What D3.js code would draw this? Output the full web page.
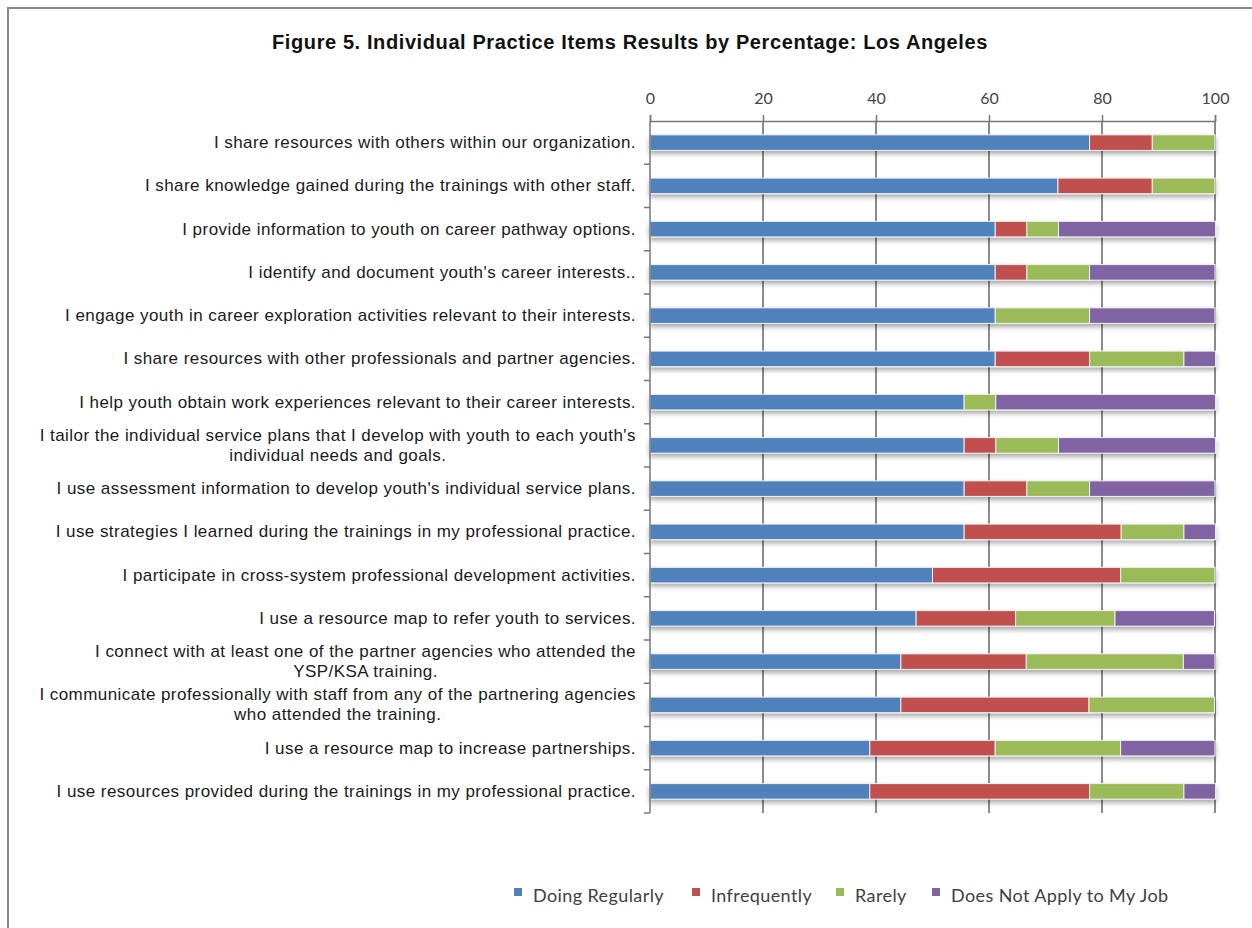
<!DOCTYPE html>
<html>
<head>
<meta charset="utf-8">
<script src="https://cdn.jsdelivr.net/npm/d3@7"></script>
<style>
  body { margin: 0; background: #fff; }
  svg { display: block; }
</style>
</head>
<body>
<script>
// items, top to bottom (multi-line labels split with |)
const items = [
  "I share resources with others within our organization.",
  "I share knowledge gained during the trainings with other staff.",
  "I provide information to youth on career pathway options.",
  "I identify and document youth's career interests..",
  "I engage youth in career exploration activities relevant to their interests.",
  "I share resources with other professionals and partner agencies.",
  "I help youth obtain work experiences relevant to their career interests.",
  "I tailor the individual service plans that I develop with youth to each youth's|individual needs and goals.",
  "I use assessment information to develop youth's individual service plans.",
  "I use strategies I learned during the trainings in my professional practice.",
  "I participate in cross-system professional development activities.",
  "I use a resource map to refer youth to services.",
  "I connect with at least one of the partner agencies who attended the|YSP/KSA training.",
  "I communicate professionally with staff from any of the partnering agencies|who attended the training.",
  "I use a resource map to increase partnerships.",
  "I use resources provided during the trainings in my professional practice."
];

const doingRegularly = [77.8, 72.2, 61.1, 61.1, 61.1, 61.1, 55.6, 55.6, 55.6, 55.6, 50.0, 47.1, 44.4, 44.4, 38.9, 38.9];
const infrequently   = [11.1, 16.7, 5.6, 5.6, 0, 16.7, 0, 5.6, 11.1, 27.8, 33.3, 17.6, 22.2, 33.3, 22.2, 38.9];
const rarely         = [11.1, 11.1, 5.6, 11.1, 16.7, 16.7, 5.6, 11.1, 11.1, 11.1, 16.7, 17.6, 27.8, 22.2, 22.2, 16.7];
const doesNotApply   = [0, 0, 27.8, 22.2, 22.2, 5.6, 38.9, 27.8, 22.2, 5.6, 0, 17.6, 5.6, 0, 16.7, 5.6];

const seriesNames = ["Doing Regularly", "Infrequently", "Rarely", "Does Not Apply to My Job"];
const seriesColors = ["#4F81BD", "#C0504D", "#9BBB59", "#8064A2"];
const xTicks = [0, 20, 40, 60, 80, 100];

const width = 1252, height = 928;
const margin = {left: 650, right: 37, top: 121, bottom: 115};

const svg = d3.select("body").append("svg")
  .attr("width", width)
  .attr("height", height);

// drop shadow like the office chart
const defs = svg.append("defs");
const filt = defs.append("filter").attr("id", "shadow")
  .attr("x", "-5%").attr("y", "-50%").attr("width", "110%").attr("height", "250%");
filt.append("feDropShadow")
  .attr("dx", 0).attr("dy", 3).attr("stdDeviation", 2.5)
  .attr("flood-color", "#000").attr("flood-opacity", 0.35);

// chart frame
svg.append("rect")
  .attr("x", 8).attr("y", 8)
  .attr("width", width + 20).attr("height", height + 20)
  .attr("fill", "none").attr("stroke", "#8a8a8a").attr("stroke-width", 2);

svg.append("text")
  .attr("x", 630).attr("y", 49)
  .attr("text-anchor", "middle")
  .style("font-family", "'Liberation Sans', Arial, sans-serif")
  .style("font-weight", "bold")
  .style("font-size", "20px")
  .style("letter-spacing", "0.6px")
  .attr("fill", "#111")
  .text("Figure 5. Individual Practice Items Results by Percentage: Los Angeles");

const x = d3.scaleLinear().domain([0, 100]).range([margin.left, width - margin.right]);
const y = d3.scaleBand().domain(d3.range(items.length))
  .range([margin.top, height - margin.bottom]).paddingInner(0.64).paddingOuter(0.32);

// gridlines
svg.append("g").selectAll("line")
  .data(xTicks.slice(1))
  .enter().append("line")
  .attr("x1", d => x(d)).attr("x2", d => x(d))
  .attr("y1", margin.top).attr("y2", height - margin.bottom)
  .attr("stroke", "#6e6e6e").attr("stroke-width", 1.6);

// stacked data
const rows = items.map((label, i) => ({
  i,
  values: [doingRegularly[i], infrequently[i], rarely[i], doesNotApply[i]]
}));
const stack = d3.stack().keys([0, 1, 2, 3]).value((d, k) => d.values[k]);
const layers = stack(rows);

const barGroup = svg.append("g").attr("filter", "url(#shadow)");
layers.forEach((layer, k) => {
  barGroup.selectAll(".s" + k)
    .data(layer.filter(d => d[1] - d[0] > 0))
    .enter().append("rect")
    .attr("class", "s" + k)
    .attr("x", d => x(d[0]))
    .attr("width", d => x(d[1]) - x(d[0]))
    .attr("y", d => y(d.data.i))
    .attr("height", y.bandwidth())
    .attr("fill", seriesColors[k])
    .attr("stroke", "#f2f2f2")
    .attr("stroke-width", 1);
});

// top axis
const xAxis = svg.append("g")
  .attr("transform", `translate(0,${margin.top})`)
  .call(d3.axisTop(x).tickValues(xTicks).tickSize(6).tickPadding(11));
xAxis.select(".domain").attr("stroke", "#777").attr("stroke-width", 1.5);
xAxis.selectAll(".tick line").attr("stroke", "#777").attr("stroke-width", 1.5);
xAxis.selectAll("text")
  .style("font-family", "Lato, 'Open Sans', sans-serif")
  .style("font-size", "16px")
  .attr("fill", "#444");

// left axis line with ticks at band boundaries
const step = y.step();
const yBounds = d3.range(items.length + 1).map(k => margin.top + k * step);
svg.append("line")
  .attr("x1", margin.left).attr("x2", margin.left)
  .attr("y1", margin.top).attr("y2", height - margin.bottom)
  .attr("stroke", "#777").attr("stroke-width", 1.5);
svg.append("g").selectAll("line")
  .data(yBounds.slice(1))
  .enter().append("line")
  .attr("x1", margin.left - 6).attr("x2", margin.left)
  .attr("y1", d => d).attr("y2", d => d)
  .attr("stroke", "#777").attr("stroke-width", 1.5);

// category labels
const labelRight = 636;
const labelG = svg.append("g")
  .style("font-family", "'Liberation Sans', Arial, sans-serif")
  .style("font-size", "17px")
  .style("letter-spacing", "0.45px")
  .attr("fill", "#1a1a1a");

items.forEach((label, i) => {
  const lines = label.split("|");
  const cy = y(i) + y.bandwidth() / 2;
  const lh = 20;
  const t = labelG.append("text").attr("text-anchor", "end");
  lines.forEach((ln, j) => {
    t.append("tspan")
      .attr("x", labelRight)
      .attr("y", cy + 5.5 + (j - (lines.length - 1) / 2) * lh)
      .text(ln);
  });
  if (lines.length > 1) {
    // centre the lines of a wrapped label on the widest line
    const spans = t.selectAll("tspan").nodes();
    const widths = spans.map(s => s.getComputedTextLength());
    const maxW = d3.max(widths);
    t.attr("text-anchor", "middle");
    spans.forEach(s => d3.select(s).attr("x", labelRight - maxW / 2));
  }
});

// legend
const legend = svg.append("g")
  .style("font-family", "Lato, 'Open Sans', sans-serif")
  .style("font-size", "18px")
  .style("letter-spacing", "0.4px")
  .attr("fill", "#404040");
const legendX = [514, 692, 836, 932];
seriesNames.forEach((name, k) => {
  legend.append("rect")
    .attr("x", legendX[k]).attr("y", 888)
    .attr("width", 8).attr("height", 8)
    .attr("fill", seriesColors[k]);
  legend.append("text")
    .attr("x", legendX[k] + 19).attr("y", 902)
    .text(name);
});
</script>
</body>
</html>
